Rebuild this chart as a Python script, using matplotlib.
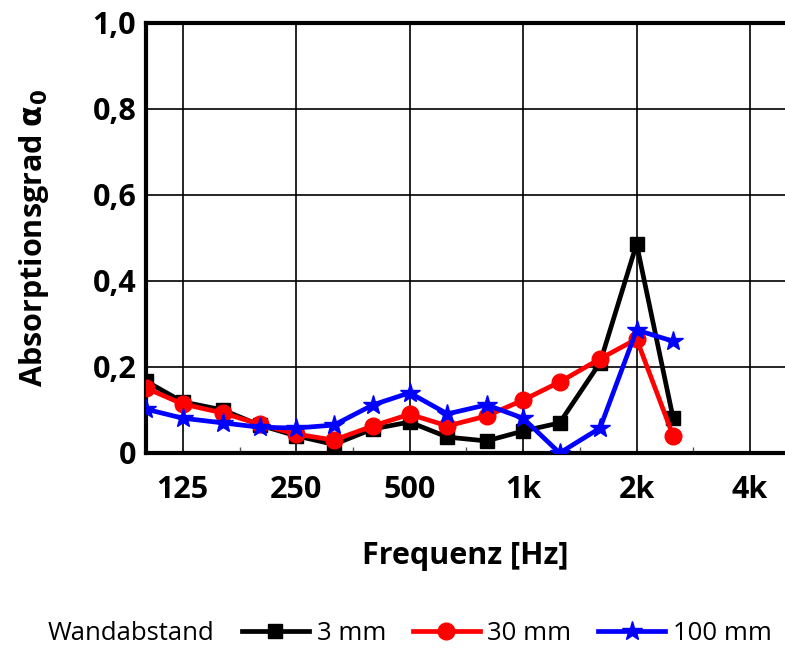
import matplotlib
matplotlib.use("Agg")
import matplotlib.pyplot as plt
from matplotlib.ticker import FixedLocator, NullFormatter

plt.rcParams['font.family'] = ['Open Sans', 'DejaVu Sans']

# third-octave band centre frequencies
freq = [100, 125, 160, 200, 250, 315, 400, 500, 630, 800, 1000, 1250, 1600, 2000, 2500]

# absorption coefficient for each wall distance
alpha_3mm = [0.167, 0.119, 0.100, 0.065, 0.040, 0.020, 0.056, 0.072, 0.037, 0.028,
             0.051, 0.070, 0.210, 0.486, 0.081]
alpha_30mm = [0.151, 0.114, 0.093, 0.067, 0.044, 0.030, 0.063, 0.090, 0.063, 0.086,
              0.123, 0.165, 0.219, 0.265, 0.040]
alpha_100mm = [0.102, 0.081, 0.070, 0.060, 0.058, 0.065, 0.112, 0.140, 0.091, 0.112,
               0.081, 0.000, 0.058, 0.286, 0.260]

xticks = [125, 250, 500, 1000, 2000, 4000]
xtick_labels = ['125', '250', '500', '1k', '2k', '4k']
yticks = [0, 0.2, 0.4, 0.6, 0.8, 1.0]
ytick_labels = ['0', '0,2', '0,4', '0,6', '0,8', '1,0']
minor_ticks = [177, 354, 707, 1414, 2828]

fig = plt.figure(figsize=(7.85, 6.5), dpi=100)
ax = fig.add_axes([146 / 785, 197 / 650, 639 / 785, 430 / 650])

l1, = ax.plot(freq, alpha_3mm, color='black', lw=3.4, marker='s', ms=10, label='3 mm', zorder=3)
l2, = ax.plot(freq, alpha_30mm, color='red', lw=3.4, marker='o', ms=12, label='30 mm', zorder=4)
l3, = ax.plot(freq, alpha_100mm, color='blue', lw=3.4, marker='*', ms=15, label='100 mm', zorder=5)

ax.set_xscale('log')
ax.set_xlim(100, 4950)
ax.set_ylim(0, 1.0)

ax.xaxis.set_major_locator(FixedLocator(xticks))
ax.xaxis.set_minor_locator(FixedLocator(minor_ticks))
ax.xaxis.set_minor_formatter(NullFormatter())
ax.set_xticklabels(xtick_labels)
ax.set_yticks(yticks)
ax.set_yticklabels(ytick_labels)

ax.grid(True, which='major', color='black', lw=1.2)
ax.tick_params(axis='both', which='major', length=0, labelsize=22)
ax.tick_params(axis='y', which='major', pad=7)
ax.tick_params(axis='x', which='major', pad=16)
ax.tick_params(axis='x', which='minor', direction='in', length=4, width=1, color='#555555')
for lab in ax.get_xticklabels() + ax.get_yticklabels():
    lab.set_fontweight('bold')

for side in ['top', 'left', 'bottom']:
    ax.spines[side].set_linewidth(3)
ax.spines['right'].set_visible(False)

ax.set_xlabel('Frequenz [Hz]', fontsize=22, fontweight='bold', labelpad=26)
ax.set_ylabel(r'Absorptionsgrad $\mathbf{\alpha_0}$', fontsize=22, fontweight='bold', labelpad=30)

fig.text(48 / 785, 1 - 633 / 650, 'Wandabstand', fontsize=18.5, va='center', ha='left')
fig.legend(handles=[l1, l2, l3], loc='center left', bbox_to_anchor=(242 / 785, 1 - 633 / 650),
           ncol=3, frameon=False, fontsize=18.5, handlelength=2.6, handletextpad=0.3,
           columnspacing=1.05, borderaxespad=0, borderpad=0)

fig.savefig('out.png', dpi=100)
